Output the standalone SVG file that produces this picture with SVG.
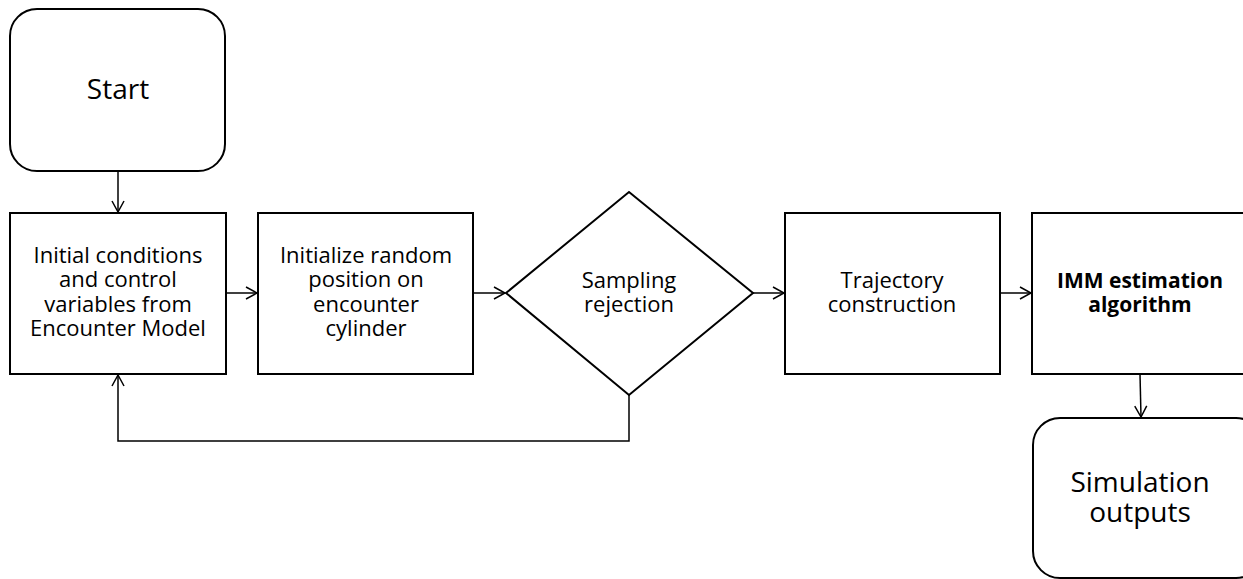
<svg xmlns="http://www.w3.org/2000/svg" width="1243" height="579" viewBox="0 0 1243 579">
<style>
.box{fill:#fff;stroke:#000;stroke-width:2}
.c{fill:none;stroke:#000;stroke-width:1.5}
text{font-family:"Open Sans","Noto Sans",sans-serif;fill:#000;text-anchor:middle}
.t{font-size:22px}
.b{font-weight:bold;font-size:21px}
.big{font-size:28px}
</style>
<defs>
<marker id="a" markerWidth="14" markerHeight="14" refX="12" refY="7" orient="auto" markerUnits="userSpaceOnUse">
<path d="M1,1 L12,7 L1,13" fill="none" stroke="#000" stroke-width="1.5"/>
</marker>
</defs>
<rect width="1243" height="579" fill="#fff"/>
<g id="connectors">
<line class="c" x1="118" y1="171" x2="118" y2="212" marker-end="url(#a)"/>
<line class="c" x1="226" y1="293" x2="257" y2="293" marker-end="url(#a)"/>
<line class="c" x1="473" y1="293" x2="505" y2="293" marker-end="url(#a)"/>
<line class="c" x1="753" y1="293" x2="784" y2="293" marker-end="url(#a)"/>
<line class="c" x1="998" y1="293" x2="1031" y2="293" marker-end="url(#a)"/>
<line class="c" x1="1140" y1="374" x2="1141" y2="417" marker-end="url(#a)"/>
<polyline class="c" points="629,395 629,441 118,441 118,375" marker-end="url(#a)"/>
</g>
<g id="start">
<rect class="box" x="10" y="9" width="215" height="162" rx="27"/>
<text class="big" x="118" y="99">Start</text>
</g>
<g id="initial">
<rect class="box" x="10" y="213" width="216" height="161"/>
<text class="t" x="118" y="263">Initial conditions</text>
<text class="t" x="118" y="287">and control</text>
<text class="t" x="118" y="312">variables from</text>
<text class="t" x="118" y="336">Encounter Model</text>
</g>
<g id="init-random">
<rect class="box" x="258" y="213" width="215" height="161"/>
<text class="t" x="366" y="263">Initialize random</text>
<text class="t" x="366" y="287">position on</text>
<text class="t" x="366" y="312">encounter</text>
<text class="t" x="366" y="336">cylinder</text>
</g>
<g id="sampling">
<polygon class="box" points="629,192 753,293 629,395 506,293"/>
<text class="t" x="629" y="288">Sampling</text>
<text class="t" x="629" y="312">rejection</text>
</g>
<g id="trajectory">
<rect class="box" x="785" y="213" width="215" height="161"/>
<text class="t" x="892" y="288">Trajectory</text>
<text class="t" x="892" y="312">construction</text>
</g>
<g id="imm">
<rect class="box" x="1032" y="213" width="230" height="161"/>
<text class="b" x="1140" y="288">IMM estimation</text>
<text class="b" x="1140" y="312">algorithm</text>
</g>
<g id="outputs">
<rect class="box" x="1033" y="418" width="230" height="160" rx="27"/>
<text class="big" x="1140" y="492">Simulation</text>
<text class="big" x="1140" y="522">outputs</text>
</g>
</svg>
